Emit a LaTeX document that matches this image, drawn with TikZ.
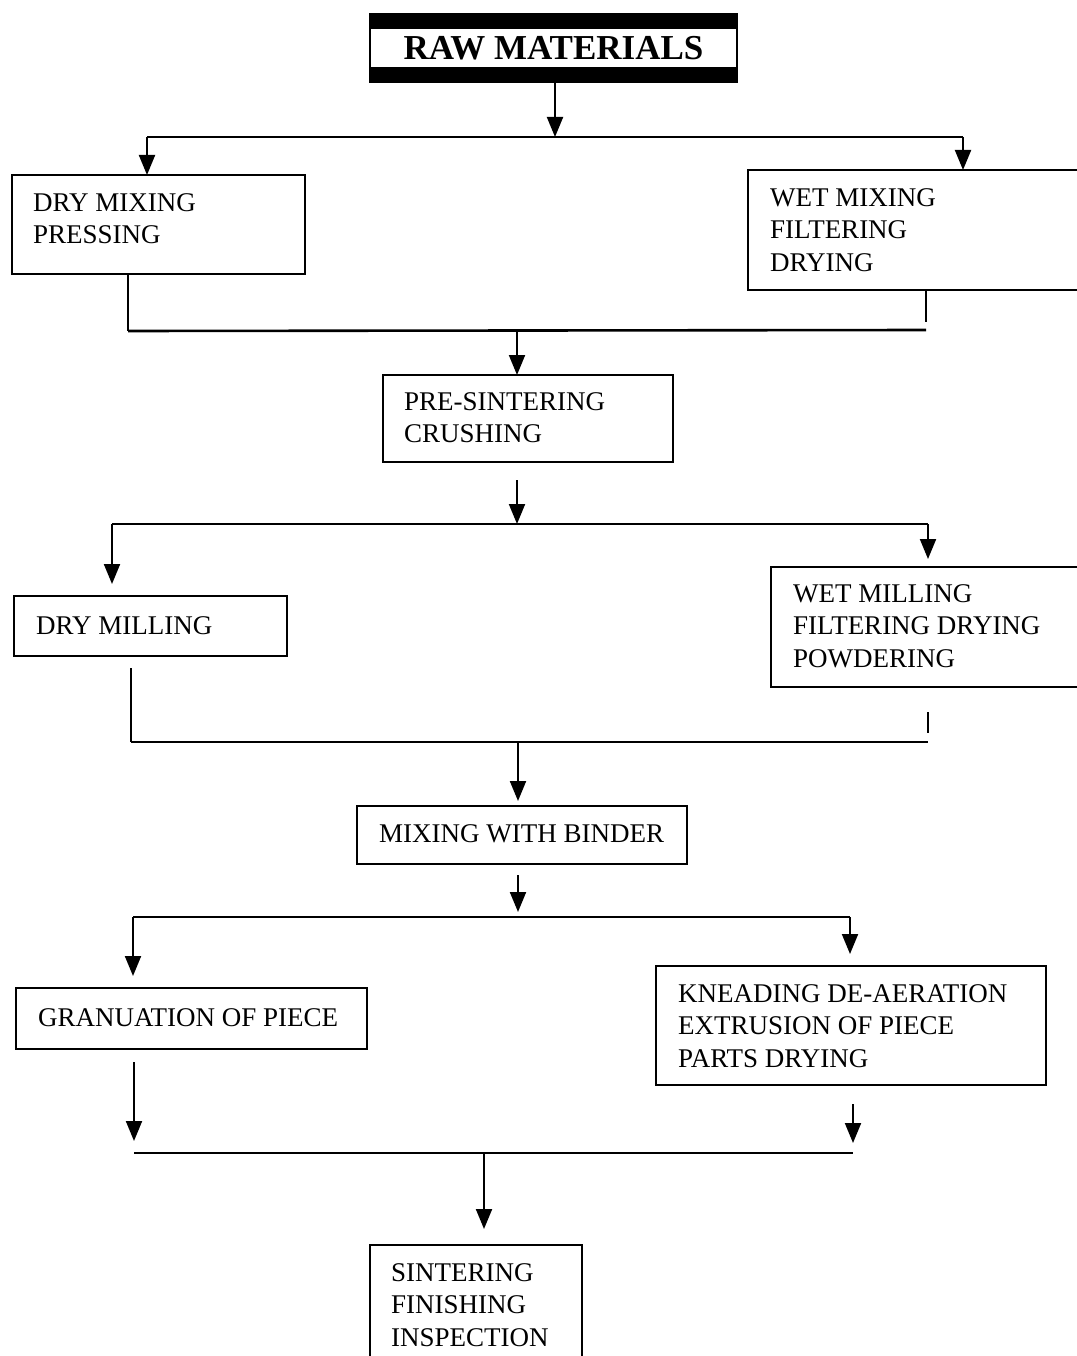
\documentclass[tikz,border=0pt]{standalone}
\usepackage{fontspec}
\setmainfont{Liberation Serif}
\usetikzlibrary{arrows.meta,calc}
\begin{document}
\begin{tikzpicture}[x=1pt,y=-1pt,
  box/.style={draw,line width=2pt,anchor=north west,inner sep=0pt,outer sep=0pt},
  txt/.style={font=\fontsize{27}{32.5}\selectfont,align=left,anchor=north west,inner sep=0pt},
  ln/.style={line width=2pt},
  hl/.style={line width=2.6pt},
  arr/.style={line width=2pt,-{Triangle[width=16pt,length=20pt]}}]
\useasboundingbox (0,0) rectangle (1076,1356);
% raw materials
\node[draw,line width=2pt,minimum width=367pt,minimum height=68pt,inner sep=0pt,outer sep=0pt,
  font=\fontsize{35}{38}\selectfont\bfseries] (raw) at (553.5,48) {RAW MATERIALS};
\fill (raw.north west) rectangle ($(raw.north east)+(0,15)$);
\fill ($(raw.south west)+(0,-15)$) rectangle (raw.south east);
% boxes
\node[box,minimum width=293pt,minimum height=99pt] (dm) at (12,175) {};
\node[box,minimum width=334pt,minimum height=120pt] (wm) at (748,170) {};
\node[box,minimum width=290pt,minimum height=87pt] (ps) at (383,375) {};
\node[box,minimum width=273pt,minimum height=60pt] (dmil) at (14,596) {};
\node[box,minimum width=311pt,minimum height=120pt] (wmil) at (771,567) {};
\node[box,minimum width=330pt,minimum height=58pt] (mwb) at (357,806) {};
\node[box,minimum width=351pt,minimum height=61pt] (gran) at (16,988) {};
\node[box,minimum width=390pt,minimum height=119pt] (knead) at (656,966) {};
\node[box,minimum width=212pt,minimum height=120pt] (sint) at (370,1245) {};
% texts
\node[txt] (dmt) at (33,193) {DRY MIXING\\PRESSING};
\node[txt] (wmt) at (770,188) {WET MIXING\\FILTERING\\DRYING};
\node[txt] (pst) at (404,392) {PRE-SINTERING\\CRUSHING};
\node[txt] (dmilt) at (36,616) {DRY MILLING};
\node[txt] (wmilt) at (793,584) {WET MILLING\\FILTERING DRYING\\POWDERING};
\node[txt] (mwbt) at (379,824) {MIXING WITH BINDER};
\node[txt] (grant) at (38,1008) {GRANUATION OF PIECE};
\node[txt] (kneadt) at (678,984) {KNEADING DE-AERATION\\EXTRUSION OF PIECE\\PARTS DRYING};
\node[txt] (sintt) at (391,1263) {SINTERING\\FINISHING\\INSPECTION};
% stage 1
\coordinate (a1) at (555,137);
\coordinate (a1l) at (147,137);
\coordinate (a1r) at (963,137);
\draw[arr] (raw.south -| a1) -- (a1);
\draw[hl] (a1l) -- (a1r);
\draw[arr] (a1l) -- (a1l |- dm.north);
\draw[arr] (a1r) -- (a1r |- wm.north);
% stage 2
\coordinate (b1l) at (128,331);
\coordinate (b1r) at (926,330);
\coordinate (b1) at (517,330);
\draw[ln] (dm.south -| b1l) -- (b1l);
\draw[ln] (wm.south -| b1r) -- ($(b1r)+(0,-8)$);
\draw[hl] (b1l) -- (b1r);
\draw[arr] (b1) -- (b1 |- ps.north);
% stage 3
\coordinate (c0) at (517,480);
\coordinate (c1) at (517,524);
\coordinate (c1l) at (112,524);
\coordinate (c1r) at (928,524);
\draw[arr] (c0) -- (c1);
\draw[hl] (c1l) -- (c1r);
\draw[arr] (c1l) -- ($(c1l |- dmil.north)+(0,-12)$);
\draw[arr] (c1r) -- ($(c1r |- wmil.north)+(0,-8)$);
% stage 4
\coordinate (d0l) at (131,668);
\coordinate (dl) at (131,742);
\coordinate (dr) at (928,742);
\coordinate (d0r) at (928,712);
\coordinate (d) at (518,742);
\draw[ln] (d0l) -- (dl);
\draw[ln] (d0r) -- ($(dr)+(0,-9)$);
\draw[hl] (dl) -- (dr);
\draw[arr] (d) -- ($(d |- mwb.north)+(0,-5)$);
% stage 5
\coordinate (e0) at (518,875);
\coordinate (e1) at (518,917);
\coordinate (e1l) at (133,917);
\coordinate (e1r) at (850,917);
\draw[arr] (e0) -- ($(e1)+(0,-5)$);
\draw[hl] (e1l) -- (e1r);
\draw[arr] (e1l) -- ($(e1l |- gran.north)+(0,-12)$);
\draw[arr] (e1r) -- ($(e1r |- knead.north)+(0,-12)$);
% stage 6
\coordinate (f0l) at (134,1062);
\coordinate (f0r) at (853,1104);
\coordinate (fl) at (134,1153);
\coordinate (fr) at (853,1153);
\coordinate (f) at (484,1153);
\draw[arr] (f0l) -- ($(fl)+(0,-12)$);
\draw[arr] (f0r) -- ($(fr)+(0,-10)$);
\draw[hl] (fl) -- (fr);
\draw[arr] (f) -- ($(f |- sint.north)+(0,-16)$);
\end{tikzpicture}
\end{document}
